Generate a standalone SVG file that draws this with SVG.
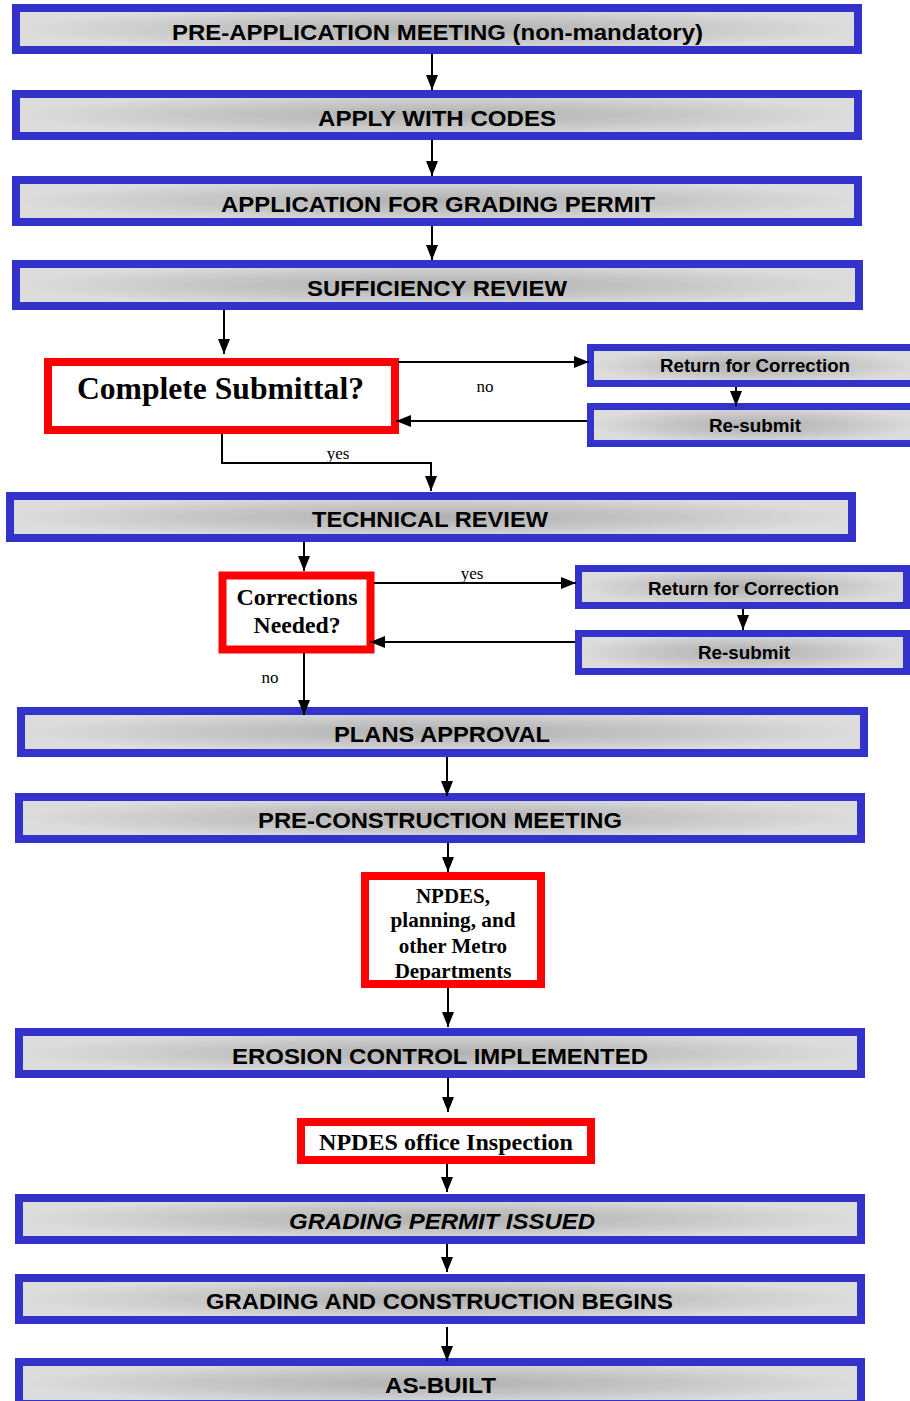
<svg xmlns="http://www.w3.org/2000/svg" width="910" height="1401" viewBox="0 0 910 1401">
<style>
.bb{fill:url(#g);stroke:#3333cc;stroke-width:8}
.sb{fill:url(#g);stroke:#3333cc;stroke-width:7}
.rb{fill:#fff;stroke:#ff0000;stroke-width:8}
.rs{fill:none;stroke:#ff0000;stroke-width:8}
.t{font-family:"Liberation Sans",Arial,sans-serif;font-weight:bold;font-size:22.5px;fill:#000;text-anchor:middle}
.ts{font-family:"Liberation Sans",Arial,sans-serif;font-weight:bold;font-size:17.5px;fill:#000;text-anchor:middle}
.s{font-family:"Liberation Serif","Times New Roman",serif;font-weight:bold;fill:#000;text-anchor:middle}
.l{font-family:"Liberation Serif","Times New Roman",serif;font-size:17px;fill:#000;text-anchor:middle}
.c{fill:none;stroke:#000;stroke-width:2;marker-end:url(#ah)}
</style>
<defs>
<radialGradient id="g" cx="0.5" cy="0.5" r="0.5">
<stop offset="0" stop-color="#b0b0b0"/>
<stop offset="0.55" stop-color="#c6c6c6"/>
<stop offset="1" stop-color="#dcdcdc"/>
</radialGradient>
<marker id="ah" viewBox="0 0 15 12" refX="15" refY="6" markerWidth="15" markerHeight="12" markerUnits="userSpaceOnUse" orient="auto">
<path d="M0,0 L15,6 L0,12 z" fill="#000"/>
</marker>
</defs>
<rect width="910" height="1401" fill="#fff"/>

<g id="n1"><rect class="bb" x="16" y="8" width="842" height="42"/><text class="t" x="437.5" y="40" textLength="531" lengthAdjust="spacingAndGlyphs">PRE-APPLICATION MEETING (non-mandatory)</text></g>
<g id="n2"><rect class="bb" x="16" y="94" width="842" height="42"/><text class="t" x="437" y="126" textLength="238" lengthAdjust="spacingAndGlyphs">APPLY WITH CODES</text></g>
<g id="n3"><rect class="bb" x="16" y="180" width="842" height="42"/><text class="t" x="438" y="212" textLength="434" lengthAdjust="spacingAndGlyphs">APPLICATION FOR GRADING PERMIT</text></g>
<g id="n4"><rect class="bb" x="16" y="264" width="843" height="42"/><text class="t" x="437" y="296" textLength="260" lengthAdjust="spacingAndGlyphs">SUFFICIENCY REVIEW</text></g>

<g id="d1"><rect class="rb" x="48" y="362" width="347" height="68"/><text class="s" x="220.5" y="399" font-size="31" textLength="287" lengthAdjust="spacingAndGlyphs">Complete Submittal?</text></g>
<g id="r1"><rect class="sb" x="590.5" y="347.5" width="330" height="36"/><text class="ts" x="755" y="372" textLength="190" lengthAdjust="spacingAndGlyphs">Return for Correction</text></g>
<g id="s1"><rect class="sb" x="590.5" y="406.5" width="330" height="37"/><text class="ts" x="755" y="432" textLength="92" lengthAdjust="spacingAndGlyphs">Re-submit</text></g>

<g id="n5"><rect class="bb" x="10" y="496" width="842" height="42"/><text class="t" x="430" y="527" textLength="236" lengthAdjust="spacingAndGlyphs">TECHNICAL REVIEW</text></g>

<g id="d2"><rect class="rb" x="222.5" y="575.5" width="148" height="74" stroke-width="7"/><text class="s" x="297" y="605" font-size="23" textLength="121" lengthAdjust="spacingAndGlyphs">Corrections</text><text class="s" x="297" y="633" font-size="23" textLength="87" lengthAdjust="spacingAndGlyphs">Needed?</text></g>
<g id="r2"><rect class="sb" x="578.5" y="568.5" width="328" height="37"/><text class="ts" x="743.5" y="595" textLength="191" lengthAdjust="spacingAndGlyphs">Return for Correction</text></g>
<g id="s2"><rect class="sb" x="578.5" y="633.5" width="328" height="38"/><text class="ts" x="744" y="659" textLength="92" lengthAdjust="spacingAndGlyphs">Re-submit</text></g>

<g id="n6"><rect class="bb" x="21" y="711" width="843" height="42"/><text class="t" x="442" y="742" textLength="216" lengthAdjust="spacingAndGlyphs">PLANS APPROVAL</text></g>
<g id="n7"><rect class="bb" x="19" y="797" width="842" height="42"/><text class="t" x="440" y="828" textLength="364" lengthAdjust="spacingAndGlyphs">PRE-CONSTRUCTION MEETING</text></g>

<g id="d3"><rect x="365" y="876" width="176" height="108" fill="#fff"/><text class="s" x="453" y="903" font-size="21">NPDES,</text><text class="s" x="453" y="927" font-size="21" textLength="125" lengthAdjust="spacingAndGlyphs">planning, and</text><text class="s" x="453" y="953" font-size="21">other Metro</text><text class="s" x="453" y="978" font-size="21">Departments</text><rect class="rs" x="365" y="876" width="176" height="108"/></g>

<g id="n8"><rect class="bb" x="19" y="1032" width="842" height="42"/><text class="t" x="440" y="1064" textLength="416" lengthAdjust="spacingAndGlyphs">EROSION CONTROL IMPLEMENTED</text></g>

<g id="d4"><rect class="rb" x="301" y="1122" width="290" height="38" stroke-width="7.5"/><text class="s" x="446" y="1150" font-size="23" textLength="254" lengthAdjust="spacingAndGlyphs">NPDES office Inspection</text></g>

<g id="n9"><rect class="bb" x="19" y="1198" width="842" height="42"/><text class="t" x="442" y="1229" font-style="italic" textLength="306" lengthAdjust="spacingAndGlyphs">GRADING PERMIT ISSUED</text></g>
<g id="n10"><rect class="bb" x="19" y="1278" width="842" height="42"/><text class="t" x="439.5" y="1309" textLength="467" lengthAdjust="spacingAndGlyphs">GRADING AND CONSTRUCTION BEGINS</text></g>
<g id="n11"><rect class="bb" x="19" y="1362" width="842" height="42"/><text class="t" x="440.5" y="1393" textLength="111" lengthAdjust="spacingAndGlyphs">AS-BUILT</text></g>

<g id="connectors">
<path class="c" d="M432,54 V90"/>
<path class="c" d="M432,140 V176"/>
<path class="c" d="M432,226 V260"/>
<path class="c" d="M224,310 V354"/>
<path class="c" d="M398,362 H589"/>
<path class="c" d="M736,387 V406"/>
<path class="c" d="M587,421 H396"/>
<path class="c" d="M222,434 V463 H431 V491"/>
<path class="c" d="M304,542 V571"/>
<path class="c" d="M374,583 H576"/>
<path class="c" d="M743,609 V630"/>
<path class="c" d="M575,642 H370"/>
<path class="c" d="M304,653 V715"/>
<path class="c" d="M447,757 V796"/>
<path class="c" d="M448,843 V872"/>
<path class="c" d="M448,988 V1027"/>
<path class="c" d="M448,1078 V1112"/>
<path class="c" d="M447,1164 V1192"/>
<path class="c" d="M447,1244 V1272"/>
<path class="c" d="M447,1327 V1361"/>
<text class="l" x="485" y="392">no</text>
<text class="l" x="338" y="459">yes</text>
<text class="l" x="472" y="579">yes</text>
<text class="l" x="270" y="683">no</text>
</g>
</svg>
